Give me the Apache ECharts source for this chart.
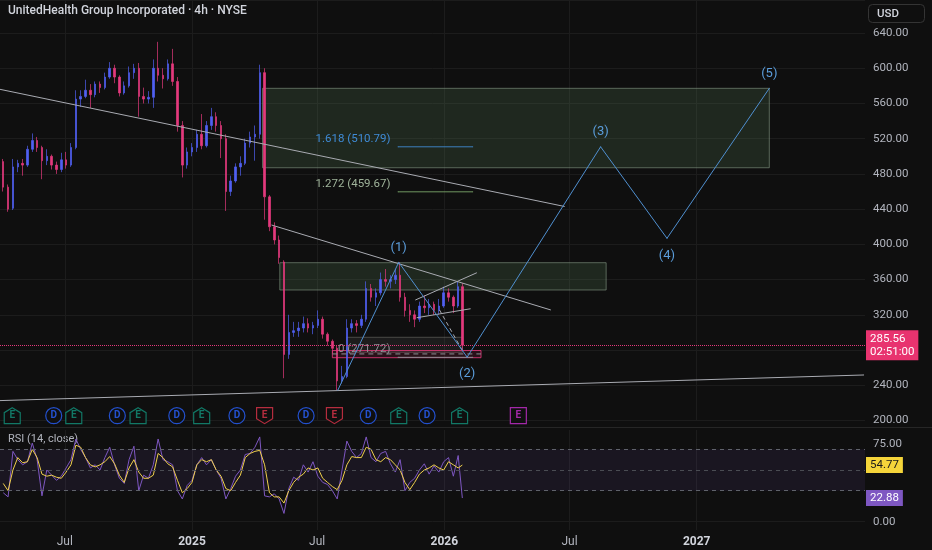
<!DOCTYPE html>
<html>
<head>
<meta charset="utf-8">
<script src="https://cdn.jsdelivr.net/npm/echarts@6/dist/echarts.min.js"></script>
<style>
html,body{margin:0;padding:0;background:#0f0f0f;}
#chart{width:932px;height:550px;}
</style>
</head>
<body>
<div id="chart"></div>
<script>
// ---------------- DATA ----------------
const titleText = 'UnitedHealth Group Incorporated · 4h · NYSE';
const currencyText = 'USD';
const countdown = '02:51:00';
const rsiTitle = 'RSI (14, close)';

const tickDates = ['2024-07-01','2025-01-01','2025-07-01','2026-01-01','2026-07-01','2027-01-01'];
const tickLabels = ['Jul','2025','Jul','2026','Jul','2027'];
const rsiTickValues = [0, 50, 75];
const rsiLevels = [70, 50, 30];

const candleDates = ['2024-04-03','2024-04-10','2024-04-17','2024-04-24','2024-05-01','2024-05-08','2024-05-15','2024-05-22','2024-05-29','2024-06-05','2024-06-12','2024-06-19','2024-06-26','2024-07-03','2024-07-10','2024-07-17','2024-07-24','2024-07-31','2024-08-07','2024-08-14','2024-08-21','2024-08-28','2024-09-04','2024-09-11','2024-09-18','2024-09-25','2024-10-02','2024-10-09','2024-10-16','2024-10-23','2024-10-30','2024-11-06','2024-11-13','2024-11-20','2024-11-27','2024-12-04','2024-12-11','2024-12-18','2024-12-25','2025-01-01','2025-01-08','2025-01-15','2025-01-22','2025-01-29','2025-02-05','2025-02-12','2025-02-19','2025-02-26','2025-03-05','2025-03-12','2025-03-19','2025-03-26','2025-04-02','2025-04-09','2025-04-16','2025-04-23','2025-04-30','2025-05-07','2025-05-14','2025-05-21','2025-05-28','2025-06-04','2025-06-11','2025-06-18','2025-06-25','2025-07-02','2025-07-09','2025-07-16','2025-07-23','2025-07-30','2025-08-06','2025-08-13','2025-08-20','2025-08-27','2025-09-03','2025-09-10','2025-09-17','2025-09-24','2025-10-01','2025-10-08','2025-10-15','2025-10-22','2025-10-29','2025-11-05','2025-11-12','2025-11-19','2025-11-26','2025-12-03','2025-12-10','2025-12-17','2025-12-24','2025-12-31','2026-01-07','2026-01-14','2026-01-21','2026-01-27'];

const opens = [494,465,441,488,492,490,508,518,510,495,
  500,490,485,496,490,510,565,568,575,570,
  582,578,590,600,590,572,580,595,600,568,
  565,567,600,592,588,605,585,535,490,505,
  510,525,512,535,545,535,520,460,472,488,
  492,515,522,525,595,454,420,405,380,275,
  300,302,305,310,305,308,315,298,290,282,
  245,250,305,310,308,315,350,340,345,360,
  358,360,365,340,325,320,315,330,328,332,
  325,330,345,340,330,352];
const highs = [497,468,497,496,497,512,526,522,512,508,
  502,494,504,505,515,575,575,587,582,585,
  585,595,607,604,592,585,602,605,606,578,
  574,610,630,600,610,622,590,540,510,515,
  530,548,540,555,550,540,525,478,492,500,
  520,528,535,604,600,456,425,410,382,320,
  312,312,318,316,312,325,318,300,292,285,
  262,315,315,314,320,358,355,350,368,372,
  365,372,380,345,332,325,335,342,338,335,
  338,352,350,342,358,356];
const lows = [460,437,439,482,478,488,505,505,474,490,
  485,480,482,486,488,508,556,566,555,567,
  572,576,588,583,568,570,578,588,545,560,
  560,555,585,577,586,580,528,476,486,500,
  505,508,510,530,528,498,438,455,470,478,
  490,510,495,520,428,415,400,378,248,270,
  295,295,300,300,298,305,293,285,276,234.6,
  242,248,300,300,305,312,335,330,342,352,
  350,355,335,318,312,306,312,322,320,320,
  320,328,335,322,328,280];
const closes = [465,440,488,492,490,508,518,510,495,500,
  490,485,496,490,510,565,568,575,570,582,
  578,590,600,590,572,580,595,600,568,565,
  567,600,592,588,605,585,535,490,505,510,
  525,512,535,545,535,520,460,472,488,492,
  515,522,525,595,454,420,405,385,275,300,
  302,305,310,305,308,315,298,290,282,245,
  250,305,310,308,315,350,340,345,360,358,
  360,365,340,325,320,315,330,328,332,325,
  330,345,340,330,352,285.56];

const rsiValues = [28,24,68,60,55,58,76,60,25,50,
  45,40,44,52,60,80,70,62,52,55,
  50,62,72,55,42,37,60,73,30,45,
  42,55,80,60,58,55,30,22,35,40,
  55,62,55,60,50,42,22,32,44,50,
  65,66,72,82,25,24,27,22,8,32,
  43,40,55,48,58,44,38,36,30,22,
  50,78,68,62,66,82,62,58,66,68,
  56,48,60,30,38,42,50,56,46,54,
  48,58,62,44,64,22.88];
const rsiMa = [37,30,50,62,57,58,70,62,46,44,
  45,43,42,48,55,74,72,62,55,53,
  55,58,63,56,45,38,52,60,48,42,
  42,45,66,62,56,53,40,28,32,38,
  55,60,58,60,50,44,32,30,38,45,
  62,66,68,69,55,28,24,24,18,30,
  38,43,46,52,50,52,42,38,34,31,
  40,55,63,62,62,72,70,60,58,62,
  60,55,50,38,31,38,46,50,52,55,
  52,50,58,55,52,54.77];

// drawings (time, price anchors)
const trendA = [['2024-03-29', 576.1], ['2026-06-24', 443.0]];
const trendB = [['2025-04-26', 422.0], ['2026-06-04', 325.5]];
const trendC = [['2024-03-29', 222.6], ['2027-08-31', 251.7]];
const channelUpper = [['2025-11-20', 336.8], ['2026-02-17', 367.8]];
const channelLower = [['2025-11-22', 316.7], ['2026-02-08', 326.9]];
const dashedLeg = [['2025-12-25', 325.5], ['2026-01-28', 278.1]];

const zoneBoxes = [
  ['2025-04-13', 577.2, '2027-04-16', 487.0],
  ['2025-05-08', 379.2, '2026-08-23', 348.2]
];
const grayBox = ['2025-08-13', 294.5, '2026-01-27', 277.5];
const pinkBox = ['2025-07-23', 279.5, '2026-02-23', 271.3];
const pinkMid = [['2025-07-23', 275.6], ['2026-02-23', 275.6]];

const fibStart = '2025-10-26', fibEnd = '2026-02-11';
const fibLevels = [0, 1.272, 1.618];
const fibPrices = [271.72, 459.67, 510.79];

const waveDates = ['2025-07-31','2025-10-27','2026-02-03','2026-08-15','2026-11-19','2027-04-16'];
const wavePrices = [234.6, 379.6, 272.0, 510.79, 406.9, 577.2];
const waveLabels = ['', '(1)', '(2)', '(3)', '(4)', '(5)'];

const dividendDates = ['2024-06-15','2024-09-15','2024-12-10','2025-03-07','2025-06-15','2025-09-13','2025-12-07'];
const earningsBeatDates = ['2024-04-16','2024-07-14','2024-10-15','2025-01-15','2025-10-27','2026-01-23'];
const earningsMissDates = ['2025-04-16','2025-07-26'];
const earningsNextDates = ['2026-04-18'];

// ---------------- HELPERS ----------------
const DAY = 86400000;
function ts(s){
  const parts = s.split(' ');
  const d = parts[0].split('-').map(Number);
  let h = 0, mi = 0;
  if (parts[1]) { const t = parts[1].split(':').map(Number); h = t[0]; mi = t[1]; }
  return Date.UTC(d[0], d[1]-1, d[2], h, mi);
}
const base = ts('2025-01-01');
const xMin = base - 277.7*DAY;
const xMax = base + 973.4*DAY;
const tickTs = tickDates.map(ts);

const BG = '#0f0f0f';
const GRID = '#1c1c1c';
const AXIS_TXT = '#b2b5be';
const FONT = 'Roboto, "Noto Sans", sans-serif';
const UP = '#5060f2';
const DOWN = '#e4397c';
const WAVE = '#4f8fd0';
const TREND = '#a9abb2';
const CLEAR = 'rgba(0,0,0,0)';

const candleData = candleDates.map((d,i)=>[ts(d), opens[i], closes[i], lows[i], highs[i]]);
const lastPrice = closes[closes.length-1];
const lastRsi = rsiValues[rsiValues.length-1];
const lastMa = rsiMa[rsiMa.length-1];

function seg(points, color, extra){
  return Object.assign({
    type:'line', xAxisIndex:0, yAxisIndex:0, symbol:'none', silent:true, z:4,
    lineStyle:{color:color, width:1},
    data: points.map(p=>[ts(p[0]), p[1]])
  }, extra||{});
}
function box(b, fill, border){
  return [{coord:[ts(b[0]), b[1]], itemStyle:{color:fill, borderColor:border, borderWidth:1}},
          {coord:[ts(b[2]), b[3]]}];
}

const fibColors = ['#8d9096', '#9fb39a', '#3f8bd6'];
const fibLineColors = ['#8d9096', '#6f9660', '#3d7fbf'];
const fibSeries = fibLevels.map((lv,i)=>({
  type:'line', xAxisIndex:0, yAxisIndex:0, silent:true, z:4,
  symbol:'circle', symbolSize:1, showSymbol:true,
  itemStyle:{color:fibLineColors[i]},
  lineStyle:{color:fibLineColors[i], width:1},
  data:[
    {value:[ts(fibStart), fibPrices[i]], label:{show:true, position:'left', distance:7, offset:[0,-8],
      formatter: lv + ' (' + fibPrices[i].toFixed(2) + ')', color:fibColors[i], fontSize:11.5, fontFamily:FONT}},
    {value:[ts(fibEnd), fibPrices[i]]}
  ]
}));

const iconLevel = 205.5;
function iconSeries(dates, symbol, color, txt){
  return {
    type:'scatter', xAxisIndex:0, yAxisIndex:0, silent:true, z:6,
    symbol:symbol, symbolSize:[16,16],
    itemStyle:{color:BG, borderColor:color, borderWidth:1.2},
    label:{show:true, position:'inside', formatter:txt, color:color, fontSize:10, fontWeight:'bold', fontFamily:FONT},
    data: dates.map(d=>[ts(d), iconLevel])
  };
}

function xLabel(v){
  let best=0, bd=Infinity;
  tickTs.forEach((t,i)=>{const d=Math.abs(t-v); if(d<bd){bd=d;best=i;}});
  const s = tickLabels[best];
  return /^\d{4}$/.test(s) ? '{y|'+s+'}' : '{m|'+s+'}';
}

function tag(value, bg, fg, text){
  return {yAxis:value, lineStyle:{color:CLEAR, width:0, opacity:1},
    label:{show:true, position:'end', distance:1, formatter:()=>text,
      backgroundColor:bg, color:fg, fontSize:11.5, lineHeight:13, padding:[2,4,1,4], fontFamily:FONT}};
}

const option = {
  backgroundColor: BG,
  animation: false,
  textStyle: {fontFamily: FONT},
  title: {text: titleText, left: 8, top: 5, padding: 0,
    textStyle: {color:'#d1d4dc', fontSize:12, fontWeight:500, fontFamily:FONT}},
  grid: [
    {left:0, top:0, width:865, height:420.5, outerBoundsMode:'none'},
    {left:0, top:430, width:865, height:100, outerBoundsMode:'none'}
  ],
  xAxis: [
    {type:'value', gridIndex:0, min:xMin, max:xMax, scale:true,
      axisLine:{show:false}, axisTick:{show:false, customValues:tickTs},
      axisLabel:{show:false, customValues:tickTs},
      splitLine:{show:true, lineStyle:{color:GRID, width:1}}},
    {type:'value', gridIndex:1, min:xMin, max:xMax, scale:true,
      axisLine:{show:false}, axisTick:{show:false, customValues:tickTs},
      axisLabel:{show:true, customValues:tickTs, margin:6, formatter:xLabel,
        rich:{y:{fontWeight:'bold', color:'#d1d4dc', fontSize:12, fontFamily:FONT},
              m:{color:AXIS_TXT, fontSize:12, fontFamily:FONT}}},
      splitLine:{show:true, lineStyle:{color:GRID, width:1}}}
  ],
  yAxis: [
    {type:'value', gridIndex:0, position:'right', min:200, max:677.5, interval:40,
      axisLine:{show:false}, axisTick:{show:false},
      axisLabel:{showMaxLabel:false, color:AXIS_TXT, fontSize:11.5, margin:8, fontFamily:FONT,
        formatter:v=>v.toFixed(2)},
      splitLine:{lineStyle:{color:GRID, width:1}}},
    {type:'value', gridIndex:1, position:'right', min:-8.03, max:88.68,
      axisLine:{show:false}, axisTick:{show:false, customValues:rsiTickValues},
      axisLabel:{customValues:rsiTickValues, color:AXIS_TXT, fontSize:11.5, margin:8, fontFamily:FONT,
        formatter:v=>v.toFixed(2)},
      splitLine:{show:false}}
  ],
  graphic: [
    {type:'line', silent:true, shape:{x1:0, y1:427.5, x2:932, y2:427.5}, style:{stroke:'#262626', lineWidth:1}},
    {type:'rect', silent:true, shape:{x:868.5, y:4.5, width:56, height:18, r:4}, style:{fill:'none', stroke:'#343434', lineWidth:1}},
    {type:'text', silent:true, x:877, y:14, style:{text:currencyText, fill:'#d1d4dc', font:'500 11.5px '+FONT, verticalAlign:'middle', align:'left'}},
    {type:'text', silent:true, x:8, y:439.5, style:{text:rsiTitle, fill:AXIS_TXT, font:'11px '+FONT, verticalAlign:'middle', align:'left'}}
  ],
  series: [
    {type:'line', xAxisIndex:0, yAxisIndex:0, data:[], silent:true, z:1,
      markArea:{silent:true, data:[
        box(zoneBoxes[0], 'rgba(95,140,95,0.2)', 'rgba(135,155,135,0.6)'),
        box(zoneBoxes[1], 'rgba(95,140,95,0.2)', 'rgba(135,155,135,0.6)'),
        box(grayBox, 'rgba(120,123,120,0.12)', 'rgba(140,140,130,0.45)'),
        box(pinkBox, 'rgba(233,30,99,0.12)', 'rgba(226,56,122,0.85)')
      ]}},
    {type:'candlestick', xAxisIndex:0, yAxisIndex:0, z:3, silent:true, barWidth:2,
      itemStyle:{color:UP, color0:DOWN, borderColor:UP, borderColor0:DOWN, borderWidth:0.7},
      data: candleData,
      markLine:{silent:true, symbol:'none',
        data:[{yAxis:lastPrice}],
        lineStyle:{color:'#e2387a', type:'dotted', width:1},
        label:{show:true, position:'end', distance:1,
          formatter:()=>lastPrice.toFixed(2)+'\n'+countdown,
          backgroundColor:'#e8336f', color:'#ffffff', fontSize:11.5, lineHeight:13, padding:[2,4,2,4], fontFamily:FONT}}},
    seg(trendA, TREND),
    seg(trendB, TREND),
    seg(trendC, TREND),
    seg(channelUpper, TREND),
    seg(channelLower, TREND),
    seg(dashedLeg, TREND, {lineStyle:{color:TREND, width:1, type:[4,3]}}),
    seg(pinkMid, '#8d9096', {lineStyle:{color:'#8d9096', width:1, type:[5,4]}}),
    ...fibSeries,
    {type:'line', xAxisIndex:0, yAxisIndex:0, silent:true, z:5,
      symbol:'circle', symbolSize:1, showSymbol:true,
      itemStyle:{color:WAVE}, lineStyle:{color:WAVE, width:1},
      data: waveDates.map((d,i)=>({
        value:[ts(d), wavePrices[i]],
        label:{show: waveLabels[i] !== '', formatter: waveLabels[i],
          position: (i%2===1) ? 'top' : 'bottom', distance: (i%2===1) ? 8 : 10,
          color:'#5b9ddb', fontSize:13, fontFamily:FONT}
      }))},
    iconSeries(dividendDates, 'circle', '#2962ff', 'D'),
    iconSeries(earningsBeatDates, 'path://M8,0 L16,5 L16,16 L0,16 L0,5 Z', '#13927c', 'E'),
    iconSeries(earningsMissDates, 'path://M0,0 L16,0 L16,11 L8,16 L0,11 Z', '#e0344b', 'E'),
    iconSeries(earningsNextDates, 'path://M0,0 L16,0 L16,16 L0,16 Z', '#c92fd0', 'E'),
    {type:'line', xAxisIndex:1, yAxisIndex:1, silent:true, z:3, symbol:'none',
      lineStyle:{color:'#7e57c2', width:1},
      data: candleDates.map((d,i)=>[ts(d), rsiValues[i]]),
      markArea:{silent:true, data:[[{yAxis:rsiLevels[2], itemStyle:{color:'rgba(126,87,194,0.1)'}},{yAxis:rsiLevels[0]}]]},
      markLine:{silent:true, symbol:'none', label:{show:false},
        data:[
          {yAxis:rsiLevels[0], lineStyle:{color:'#5f626b', type:[4,4], width:1}},
          {yAxis:rsiLevels[1], lineStyle:{color:'#4a4c53', type:[4,4], width:1}},
          {yAxis:rsiLevels[2], lineStyle:{color:'#5f626b', type:[4,4], width:1}},
          {yAxis:0, lineStyle:{color:GRID, type:'solid', width:1}}
        ]}},
    {type:'line', xAxisIndex:1, yAxisIndex:1, silent:true, z:4, symbol:'none',
      lineStyle:{color:'#f0d04c', width:1},
      data: candleDates.map((d,i)=>[ts(d), rsiMa[i]])},
    // value tags of the RSI pane (drawn last, on top)
    {type:'line', xAxisIndex:1, yAxisIndex:1, silent:true, z:10, symbol:'none', data:[],
      markLine:{silent:true, symbol:'none', z:10,
        data:[
          tag(lastMa, '#f5d53a', '#1a1a1a', lastMa.toFixed(2)),
          tag(lastRsi, '#7e57c2', '#ffffff', lastRsi.toFixed(2))
        ]}}
  ]
};

const chart = echarts.init(document.getElementById('chart'), null, {renderer:'canvas'});
chart.setOption(option);
</script>
</body>
</html>
